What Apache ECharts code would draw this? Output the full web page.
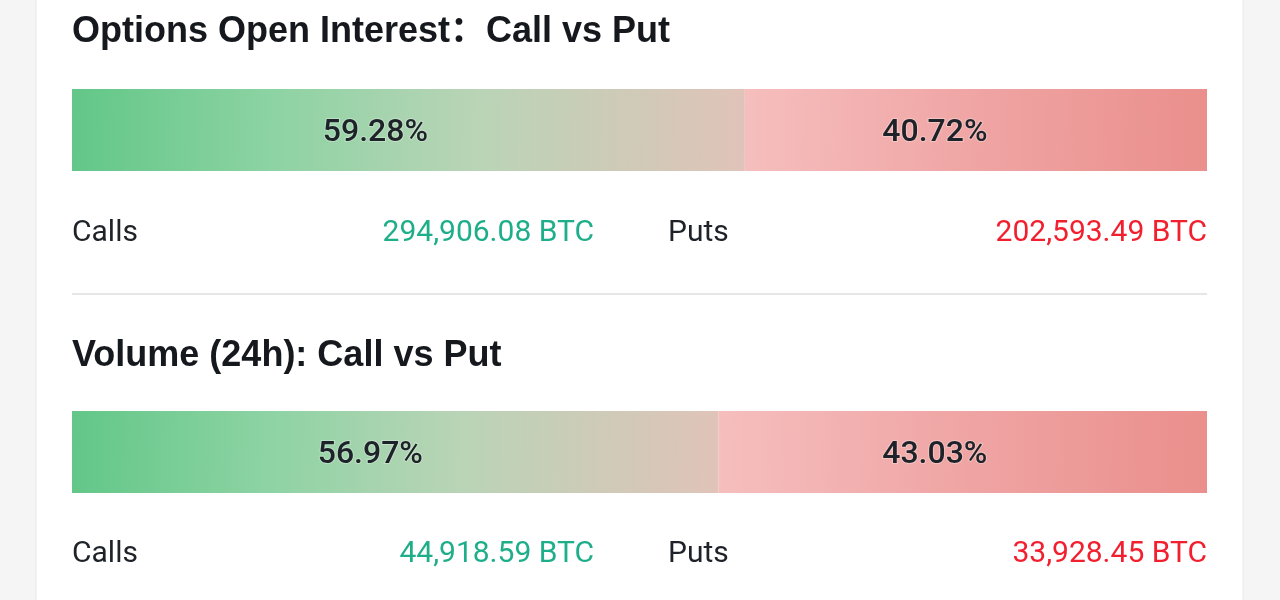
<!DOCTYPE html>
<html>
<head>
<meta charset="utf-8">
<script src="https://cdn.jsdelivr.net/npm/echarts@6/dist/echarts.min.js"></script>
<style>
  html, body { margin: 0; padding: 0; background: #f5f5f5; }
  #chart { width: 1280px; height: 600px; }
</style>
</head>
<body>
<div id="chart"></div>
<script>
// ---- data ----
const sectionTitles = ['Options Open Interest：Call vs Put', 'Volume (24h): Call vs Put'];
const callPct = [59.28, 56.97];
const putPct = [40.72, 43.03];
const callBTC = [294906.08, 44918.59];
const putBTC = [202593.49, 33928.45];
const sideLabels = ['Calls', 'Puts'];
const unit = 'BTC';

// ---- layout/style ----
const L = 72, W = 1135;
const barTops = [89, 411];
const barH = 82;
const titleY = [32, 356];
const rowY = [233, 554];
const fmt = v => v.toLocaleString('en-US', { minimumFractionDigits: 2, maximumFractionDigits: 2 }) + ' ' + unit;

const greenGrad = new echarts.graphic.LinearGradient(0, 0, 1, 0.15, [
  { offset: 0, color: '#62c788' },
  { offset: 0.3, color: '#8dd3a3' },
  { offset: 0.6, color: '#b9d4b6' },
  { offset: 1, color: '#e0c3b9' }
]);
const redGrad = new echarts.graphic.LinearGradient(0, 0, 1, 0.15, [
  { offset: 0, color: '#f6bebe' },
  { offset: 0.5, color: '#efa5a4' },
  { offset: 1, color: '#ea8f8c' }
]);

const grids = [], xAxes = [], yAxes = [], series = [];
const labelStyle = (dx) => ({
  show: true, position: 'inside', offset: [dx, 3],
  formatter: p => p.value.toFixed(2) + '%',
  fontFamily: 'Roboto', fontWeight: 500, fontSize: 32, color: '#1e2329',
  textBorderColor: 'rgba(255,255,255,0.3)', textBorderWidth: 2
});
const labelOffsets = [[-33, -41], [-25, -28]];
for (let i = 0; i < 2; i++) {
  grids.push({ left: L, width: W, top: barTops[i], height: barH, containLabel: false });
  xAxes.push({ type: 'value', gridIndex: i, min: 0, max: 100, show: false });
  yAxes.push({ type: 'category', gridIndex: i, data: [sectionTitles[i]], show: false });
  series.push({
    type: 'bar', xAxisIndex: i, yAxisIndex: i, stack: 's' + i, barWidth: '100%',
    data: [callPct[i]], itemStyle: { color: greenGrad }, label: labelStyle(labelOffsets[i][0]),
    silent: true, animation: false
  });
  series.push({
    type: 'bar', xAxisIndex: i, yAxisIndex: i, stack: 's' + i, barWidth: '100%',
    data: [putPct[i]], itemStyle: { color: redGrad }, label: labelStyle(labelOffsets[i][1]),
    silent: true, animation: false
  });
}

const graphics = [
  { type: 'rect', z: -10, shape: { x: 36, y: -10, width: 1207, height: 620 },
    style: { fill: '#ffffff', stroke: '#e8e8e8', lineWidth: 1 } },
  { type: 'line', shape: { x1: L, y1: 294, x2: L + W, y2: 294 },
    style: { stroke: '#e6e6e6', lineWidth: 2 } }
];
for (let i = 0; i < 2; i++) {
  graphics.push({ type: 'text', x: L, y: titleY[i],
    style: { text: sectionTitles[i], fontFamily: '"Liberation Sans", Arial, "Noto Sans CJK SC"', fontWeight: 'bold',
      fontSize: 36, fill: '#15181d', textAlign: 'left', textVerticalAlign: 'middle' } });
  const rowFont = { fontFamily: 'Roboto', fontSize: 30, textVerticalAlign: 'middle' };
  graphics.push({ type: 'text', x: L, y: rowY[i],
    style: Object.assign({ text: sideLabels[0], fill: '#1e2329', textAlign: 'left' }, rowFont) });
  graphics.push({ type: 'text', x: 594, y: rowY[i],
    style: Object.assign({ text: fmt(callBTC[i]), fill: '#1fae8a', textAlign: 'right' }, rowFont) });
  graphics.push({ type: 'text', x: 668, y: rowY[i],
    style: Object.assign({ text: sideLabels[1], fill: '#1e2329', textAlign: 'left' }, rowFont) });
  graphics.push({ type: 'text', x: L + W, y: rowY[i],
    style: Object.assign({ text: fmt(putBTC[i]), fill: '#f2202f', textAlign: 'right' }, rowFont) });
}

const chart = echarts.init(document.getElementById('chart'));
chart.setOption({
  backgroundColor: '#f5f5f5',
  animation: false,
  grid: grids, xAxis: xAxes, yAxis: yAxes, series: series,
  graphic: graphics
});
</script>
</body>
</html>
